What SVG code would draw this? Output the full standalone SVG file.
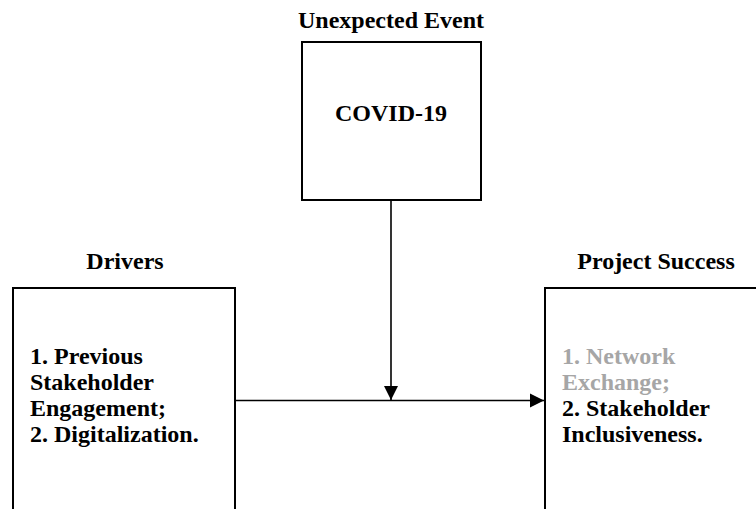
<svg xmlns="http://www.w3.org/2000/svg" width="756" height="509" viewBox="0 0 756 509">
  <style>
    .box { fill: #ffffff; stroke: #000000; stroke-width: 2; }
    .title { font-family: "Liberation Serif", "DejaVu Serif", serif; font-weight: bold; font-size: 24px; fill: #000000; text-anchor: middle; }
    .body { font-family: "Liberation Serif", "DejaVu Serif", serif; font-weight: bold; font-size: 24px; fill: #000000; }
    .gray { fill: #a6a6a6; }
    .conn { stroke: #000000; stroke-width: 1.6; fill: none; }
  </style>
  <defs>
    <marker id="arrow" markerUnits="userSpaceOnUse" markerWidth="14" markerHeight="16" viewBox="0 0 14 16" refX="14" refY="8" orient="auto">
      <path d="M0,1 L14,8 L0,15 Z" fill="#000000"/>
    </marker>
  </defs>
  <rect width="756" height="509" fill="#ffffff"/>

  <g id="node-covid">
    <text class="title" x="391" y="28">Unexpected Event</text>
    <rect class="box" x="302" y="42" width="179" height="158"/>
    <text class="title" x="391" y="121">COVID-19</text>
  </g>

  <g id="node-drivers">
    <text class="title" x="125" y="269">Drivers</text>
    <rect class="box" x="13" y="288" width="222" height="240"/>
    <text class="body" x="30" y="364">1. Previous</text>
    <text class="body" x="30" y="390">Stakeholder</text>
    <text class="body" x="30" y="416">Engagement;</text>
    <text class="body" x="30" y="442">2. Digitalization.</text>
  </g>

  <g id="node-success">
    <text class="title" x="656" y="269">Project Success</text>
    <rect class="box" x="545" y="288" width="230" height="240"/>
    <text class="body gray" x="562" y="364">1. Network</text>
    <text class="body gray" x="562" y="390">Exchange;</text>
    <text class="body" x="562" y="416">2. Stakeholder</text>
    <text class="body" x="562" y="442">Inclusiveness.</text>
  </g>

  <g id="connectors">
    <line class="conn" x1="391" y1="201" x2="391" y2="400" marker-end="url(#arrow)"/>
    <line class="conn" x1="236" y1="400.5" x2="544" y2="400.5" marker-end="url(#arrow)"/>
  </g>
</svg>
